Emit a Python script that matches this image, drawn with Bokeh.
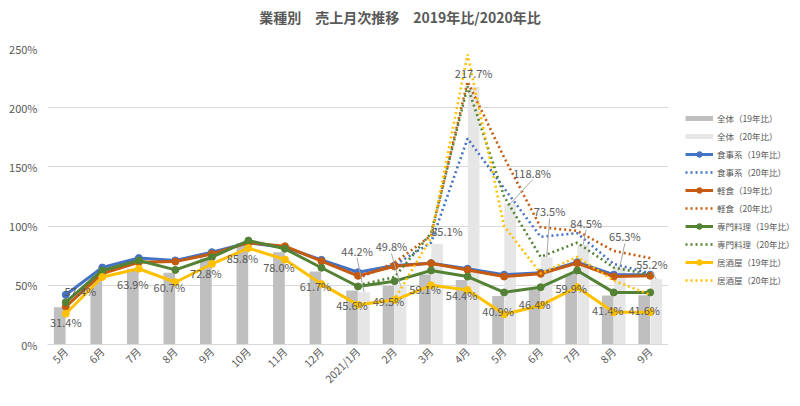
import math
from bokeh.plotting import figure
from bokeh.layouts import row, column
from bokeh.models import Range1d, FixedTicker, Legend, LegendItem, Div, ColumnDataSource
from bokeh.transform import dodge
from bokeh.core.properties import value
from bokeh.embed import file_html
from bokeh.resources import INLINE

# ---------------- data ----------------
title_text = "業種別　売上月次推移　2019年比/2020年比"
months = ["5月", "6月", "7月", "8月", "9月", "10月", "11月", "12月", "2021/1月",
          "2月", "3月", "4月", "5月", "6月", "7月", "8月", "9月"]
n20 = 9  # 20年比 is available for the last 9 months

total19 = [31.4, 57.4, 63.9, 60.7, 72.8, 85.8, 78.0, 61.7, 45.6,
           49.5, 59.1, 54.4, 40.9, 46.4, 59.9, 41.4, 41.6]
total20 = [44.2, 49.8, 85.1, 217.7, 118.8, 73.5, 84.5, 65.3, 55.2]

shokuji19 = [42, 65, 73, 71, 78, 86, 82, 71.5, 61, 66.7, 68.7, 64, 59, 60.5, 69.5, 59, 59]
shokuji20 = [57, 67, 86, 174, 132, 91, 94, 68, 60]
keishoku19 = [32, 60, 69.5, 70, 76.5, 86, 83, 70.4, 58, 66, 68.7, 63, 57.4, 59.7, 68.7, 57.4, 58]
keishoku20 = [56, 69, 92, 222, 158, 99, 96, 79, 73]
senmon19 = [35.7, 62.5, 71, 63, 73.7, 87.8, 80.8, 64.8, 49, 53.5, 62.5, 57.4, 44, 48.4, 62.5, 44, 44]
senmon20 = [50, 57, 94, 218, 125, 74, 86, 65, 59]
izakaya19 = [26, 57, 64, 52.6, 68, 81.4, 71.8, 51, 33.5, 37.5, 50, 46, 25.5, 33, 48.4, 27.3, 27.3]
izakaya20 = [33, 38, 90, 245, 100, 60, 74, 54, 42]

y_ticks = [0, 50, 100, 150, 200, 250]

# ---------------- layout / style ----------------
FONT = "Noto Sans CJK JP"
TXT = "#595959"
C_BLUE = "#4472C4"
C_ORANGE = "#C55A11"
C_GREEN = "#548235"
C_GOLD = "#FFC000"
C_BAR19 = "#BFBFBF"
C_BAR20 = "#E7E6E6"
TITLE_H = 30

# label placement (x in category units, y in % units)
lab19_dx = [0.0, -0.6] + [-0.165] * 15
lab20_dx = [-0.19, -0.25, 0.27, 0.0, 0.6, 0.08, 0.08, 0.14, -0.12]
lab20_dy = [35, 33, 11, 11.5, 26, 39, 18.5, 26, 13]

x19 = list(range(len(months)))
x20 = x19[len(months) - n20:]

p = figure(width=668, height=406 - TITLE_H, output_backend="svg", toolbar_location=None,
           x_range=Range1d(-0.5, len(months) - 0.5), y_range=Range1d(0, 250),
           min_border_left=47, min_border_right=0, min_border_top=48 - TITLE_H,
           min_border_bottom=62)
p.outline_line_color = None
p.background_fill_color = "white"
p.border_fill_color = "white"

# axes
p.xaxis.ticker = FixedTicker(ticks=x19)
p.xaxis.major_label_overrides = {i: m for i, m in enumerate(months)}
p.xaxis.major_label_orientation = math.pi / 4
p.xaxis.major_label_text_font = FONT
p.xaxis.major_label_text_font_size = "10.5px"
p.xaxis.major_label_text_color = TXT
p.xaxis.axis_line_color = "#D9D9D9"
p.xaxis.major_tick_line_color = None
p.xaxis.minor_tick_line_color = None
p.xaxis.major_tick_out = 0
p.xaxis.major_label_standoff = 5

p.yaxis.ticker = FixedTicker(ticks=y_ticks)
p.yaxis.major_label_overrides = {t: f"{t}%" for t in y_ticks}
p.yaxis.major_label_text_font = FONT
p.yaxis.major_label_text_font_size = "11px"
p.yaxis.major_label_text_color = TXT
p.yaxis.axis_line_color = None
p.yaxis.major_tick_line_color = None
p.yaxis.minor_tick_line_color = None
p.yaxis.major_tick_out = 0
p.yaxis.major_label_standoff = 10

p.xgrid.grid_line_color = None
p.ygrid.grid_line_color = "#D9D9D9"
p.ygrid.grid_line_width = 1

# bars
BW = 0.32
src19 = ColumnDataSource(dict(x=x19, top=total19))
src20 = ColumnDataSource(dict(x=x20, top=total20))
p.vbar(x=dodge("x", -0.165, range=p.x_range), top="top", width=BW, source=src19,
       fill_color=C_BAR19, line_color=None)
p.vbar(x=dodge("x", 0.165, range=p.x_range), top="top", width=BW, source=src20,
       fill_color=C_BAR20, line_color=None)

# lines
DOT = "2 3"
def solid(fig, xs, vals, color):
    l = fig.line(xs, vals, line_color=color, line_width=3)
    s = fig.scatter(xs, vals, marker="circle", size=7, fill_color=color, line_color=color)
    return [l, s]
def dotted(fig, xs, vals, color):
    return [fig.line(xs, vals, line_color=color, line_width=2.6, line_dash=DOT)]

solid(p, x19, shokuji19, C_BLUE)
dotted(p, x20, shokuji20, C_BLUE)
solid(p, x19, keishoku19, C_ORANGE)
dotted(p, x20, keishoku20, C_ORANGE)
solid(p, x19, senmon19, C_GREEN)
dotted(p, x20, senmon20, C_GREEN)
solid(p, x19, izakaya19, C_GOLD)
dotted(p, x20, izakaya20, C_GOLD)

# data labels
lx19 = [x + d for x, d in zip(x19, lab19_dx)]
ly19 = [v - 12.5 for v in total19]
p.text(lx19, ly19, text=[f"{v:.1f}%" for v in total19], text_align="center",
       text_baseline="middle", text_font=value(FONT), text_font_size="11px",
       text_color=TXT)

bx20 = [x + 0.165 for x in x20]
lx20 = [b + d for b, d in zip(bx20, lab20_dx)]
ly20 = [v + d for v, d in zip(total20, lab20_dy)]
sx0, sy0, sx1, sy1 = [], [], [], []
for b, v, lx, ly, d in zip(bx20, total20, lx20, ly20, lab20_dy):
    if d > 12:
        sx0.append(lx); sy0.append(ly - 6); sx1.append(b); sy1.append(v)
p.segment(sx0, sy0, sx1, sy1, line_color="#A6A6A6", line_width=1)
p.text(lx20, ly20, text=[f"{v:.1f}%" for v in total20], text_align="center",
       text_baseline="middle", text_font=value(FONT), text_font_size="11px",
       text_color=TXT)

# ---------------- legend panel (separate figure on the right) ----------------
q = figure(width=132, height=406 - TITLE_H, output_backend="svg", toolbar_location=None,
           x_range=Range1d(0, 1), y_range=Range1d(0, 1),
           x_axis_type=None, y_axis_type=None, min_border=0)
q.outline_line_color = None
q.xgrid.grid_line_color = None
q.ygrid.grid_line_color = None
# legend-key proxies, kept outside the visible range
kx, ky = [-2, -1], [-2, -2]
k19 = q.line(kx, ky, line_color=C_BAR19, line_width=5)
k20 = q.line(kx, ky, line_color=C_BAR20, line_width=5)
ks19 = solid(q, kx, ky, C_BLUE)
ks20 = dotted(q, kx, ky, C_BLUE)
kk19 = solid(q, kx, ky, C_ORANGE)
kk20 = dotted(q, kx, ky, C_ORANGE)
km19 = solid(q, kx, ky, C_GREEN)
km20 = dotted(q, kx, ky, C_GREEN)
ki19 = solid(q, kx, ky, C_GOLD)
ki20 = dotted(q, kx, ky, C_GOLD)

legend = Legend(items=[
    LegendItem(label="全体（19年比）", renderers=[k19]),
    LegendItem(label="全体（20年比）", renderers=[k20]),
    LegendItem(label="食事系（19年比）", renderers=ks19),
    LegendItem(label="食事系（20年比）", renderers=ks20),
    LegendItem(label="軽食（19年比）", renderers=kk19),
    LegendItem(label="軽食（20年比）", renderers=kk20),
    LegendItem(label="専門料理（19年比）", renderers=km19),
    LegendItem(label="専門料理（20年比）", renderers=km20),
    LegendItem(label="居酒屋（19年比）", renderers=ki19),
    LegendItem(label="居酒屋（20年比）", renderers=ki20),
], location=(17, 57))
legend.padding = 0
legend.margin = 0
legend.spacing = 4
legend.glyph_width = 28
legend.glyph_height = 14
legend.label_height = 14
legend.label_standoff = 4
legend.label_text_font = FONT
legend.label_text_font_size = "8.5px"
legend.label_text_color = TXT
legend.border_line_color = None
legend.background_fill_alpha = 0
q.add_layout(legend)

# ---------------- title ----------------
title = Div(text=title_text, width=800, height=TITLE_H, margin=0,
            styles={"font-family": FONT, "font-size": "14px", "font-weight": "bold",
                    "color": TXT, "text-align": "center", "line-height": "18px",
                    "padding-top": "8px", "white-space": "nowrap",
                    "box-sizing": "border-box"})

open("out.html", "w").write(file_html(column(title, row(p, q)), INLINE))
